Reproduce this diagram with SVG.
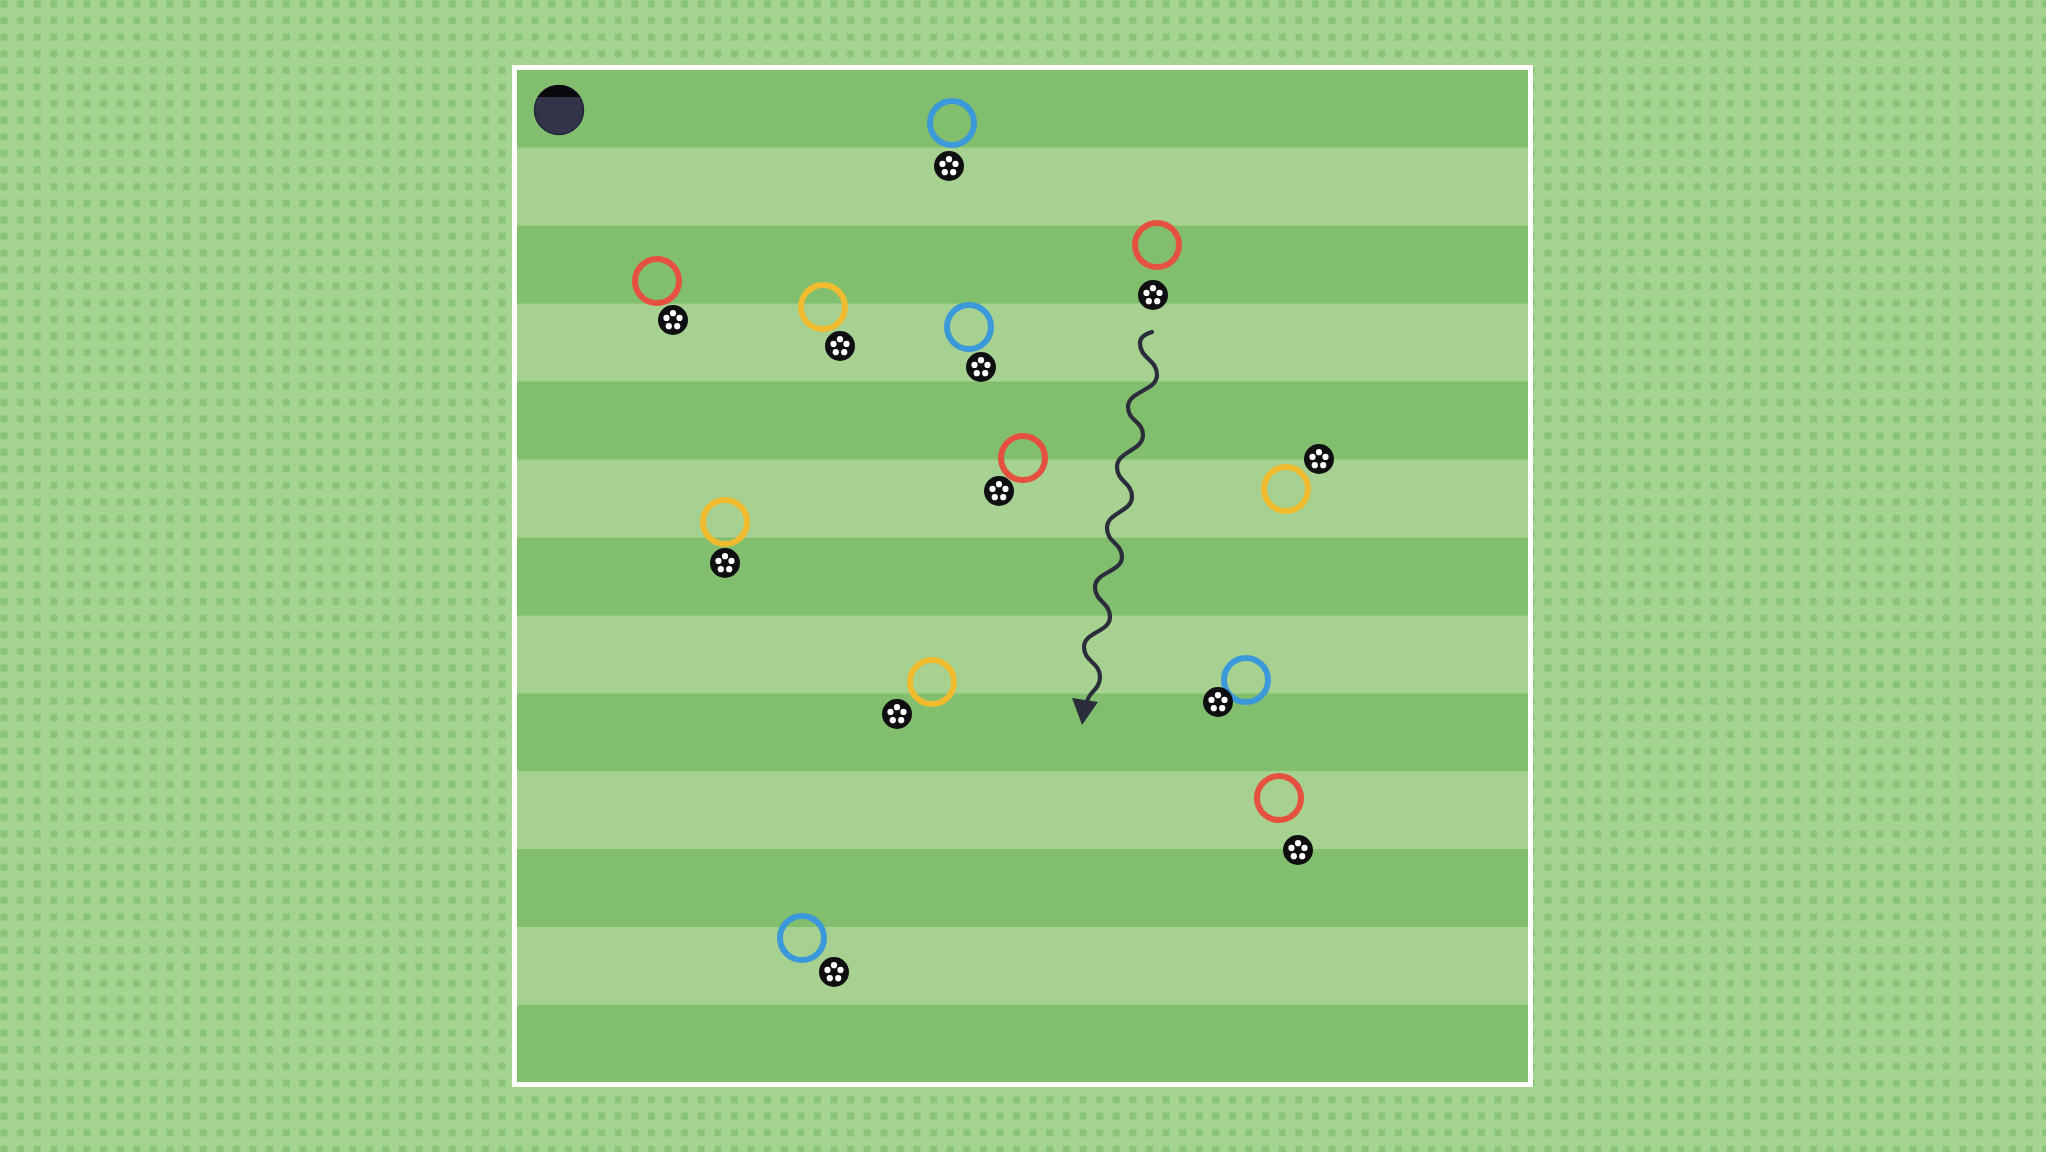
<svg xmlns="http://www.w3.org/2000/svg" width="2046" height="1152" viewBox="0 0 2046 1152">
<defs>
<style>
.ring{fill:none;stroke-width:6}
.red{stroke:#e6503e}
.yel{stroke:#f0bb2e}
.blu{stroke:#3b98d9}
.spot{fill:#ffffff}
</style>
<pattern id="dots" x="0" y="0" width="16.6" height="16.6" patternUnits="userSpaceOnUse">
<rect width="16.6" height="16.6" fill="#a5d490"/>
<rect x="0.5" y="0.5" width="7" height="7" fill="#89c376"/>
</pattern>
<g id="ball">
<circle r="15" fill="#0f0f12"/>
<circle cx="0" cy="-6.8" r="3.1" class="spot"/>
<circle cx="6.5" cy="-2.1" r="3.1" class="spot"/>
<circle cx="4.2" cy="6.2" r="3.1" class="spot"/>
<circle cx="-4.2" cy="6.2" r="3.1" class="spot"/>
<circle cx="-6.5" cy="-2.1" r="3.1" class="spot"/>
</g>
<clipPath id="capclip"><rect x="530" y="80" width="60" height="17"/></clipPath>
</defs>
<rect width="2046" height="1152" fill="url(#dots)"/>
<g id="field">
<rect x="514.5" y="67.5" width="1016" height="1017" fill="#81bf6f"/>
<g fill="#a6d191">
<rect x="517" y="147.5" width="1011" height="78"/>
<rect x="517" y="303.5" width="1011" height="78"/>
<rect x="517" y="459.5" width="1011" height="78"/>
<rect x="517" y="615.5" width="1011" height="78"/>
<rect x="517" y="771" width="1011" height="78"/>
<rect x="517" y="927" width="1011" height="78"/>
</g>
<rect x="514.5" y="67.5" width="1016" height="1017" fill="none" stroke="#ffffff" stroke-width="5"/>
</g>
<g id="cone">
<circle cx="559" cy="110" r="24.5" fill="#33344a" stroke="#23243a" stroke-width="1.5"/>
<circle cx="559" cy="110" r="25" fill="#0a0a0e" clip-path="url(#capclip)"/>
</g>
<g id="connectors">
<path d="M1152,332 C1145,334 1140,338 1140,343 C1140,359 1157,359 1157,375 C1157,391 1128,391 1128,407 C1128,421 1143,421 1143,435 C1143,451 1117,451 1117,467 C1117,482 1132,482 1132,497 C1132,512 1107,512 1107,528 C1107,543 1122,543 1122,557 C1122,572 1095,572 1095,587 C1095,602 1110,602 1110,617 C1110,632 1084,632 1084,647 C1084,662 1100,662 1100,677 C1100,690 1088,692 1087,702" fill="none" stroke="#2b2d3a" stroke-width="4.2" stroke-linecap="round"/>
<polygon points="1072,698 1098,702 1082,725" fill="#2b2d3a"/>
</g>
<g id="p1"><circle cx="952" cy="123" r="22" class="ring blu"/><use href="#ball" x="949" y="166"/></g>
<g id="p2"><circle cx="657" cy="281" r="22" class="ring red"/><use href="#ball" x="673" y="320"/></g>
<g id="p3"><circle cx="823" cy="307" r="22" class="ring yel"/><use href="#ball" x="840" y="346"/></g>
<g id="p4"><circle cx="969" cy="327" r="22" class="ring blu"/><use href="#ball" x="981" y="367"/></g>
<g id="p5"><circle cx="1157" cy="245" r="22" class="ring red"/><use href="#ball" x="1153" y="295"/></g>
<g id="p6"><circle cx="1023" cy="458" r="22" class="ring red"/><use href="#ball" x="999" y="491"/></g>
<g id="p7"><circle cx="1286" cy="489" r="22" class="ring yel"/><use href="#ball" x="1319" y="459"/></g>
<g id="p8"><circle cx="725" cy="522" r="22" class="ring yel"/><use href="#ball" x="725" y="563"/></g>
<g id="p9"><circle cx="932" cy="682" r="22" class="ring yel"/><use href="#ball" x="897" y="714"/></g>
<g id="p10"><circle cx="1246" cy="680" r="22" class="ring blu"/><use href="#ball" x="1218" y="702"/></g>
<g id="p11"><circle cx="1279" cy="798" r="22" class="ring red"/><use href="#ball" x="1298" y="850"/></g>
<g id="p12"><circle cx="802" cy="938" r="22" class="ring blu"/><use href="#ball" x="834" y="972"/></g>
</svg>
